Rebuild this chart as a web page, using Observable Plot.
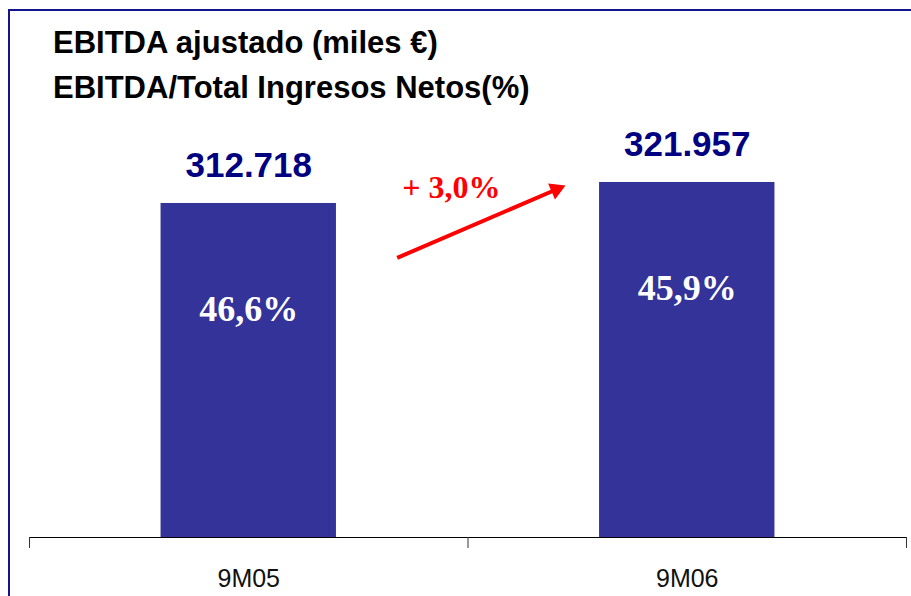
<!DOCTYPE html>
<html>
<head>
<meta charset="utf-8">
<script src="https://cdn.jsdelivr.net/npm/d3@7"></script>
<script src="https://cdn.jsdelivr.net/npm/@observablehq/plot@0.6"></script>
<style>
  body { margin: 0; background: #fff; }
  #wrap { position: relative; width: 911px; height: 596px; overflow: hidden; background: #fff; }
  #chart { position: absolute; left: 0; top: 0; }
  #frame { position: absolute; left: 8px; top: 9px; width: 940px; height: 620px;
           border-top: 2px solid #14148c; border-left: 2px solid #14148c; pointer-events: none; }
  #title { position: absolute; left: 53px; top: 20px; font-family: "Liberation Sans", Arial, sans-serif;
           font-weight: bold; font-size: 31px; line-height: 45px; color: #000; white-space: nowrap; }
</style>
</head>
<body>
<div id="wrap">
  <div id="chart"></div>
  <div id="frame"></div>
  <div id="title"><div>EBITDA ajustado (miles €)</div><div>EBITDA/Total Ingresos Netos(%)</div></div>
</div>
<script>
// ---- data ----
const categories = ["9M05", "9M06"];
const ebitda = [312718, 321957];          // miles €
const margin = [46.6, 45.9];              // EBITDA / Total Ingresos Netos (%)
const axisMin = 165800;                   // value axis starts here (as in the original)
const axisMax = 402000;
// growth arrow annotation (category-index x, value y)
const arrowStart = [0.8385, 288800];
const arrowHead = [1.2011, 318870];
const arrowAngle = 66.75;
const growthLabelPos = [0.962, 319750];

// ---- helpers ----
const es = d3.formatLocale({decimal: ",", thousands: ".", grouping: [3], currency: ["", " €"]});
const fmtInt = es.format(",d");
const fmtPct = es.format(".1f");
const growth = (ebitda[1] / ebitda[0] - 1) * 100;

const rows = categories.map((c, i) => ({cat: c, i, value: ebitda[i], pct: margin[i]}));
const barInset = 0.3;

const chart = Plot.plot({
  width: 911,
  height: 596,
  marginLeft: 29,
  marginRight: 5,
  marginTop: 0,
  marginBottom: 59,
  style: {background: "transparent", fontFamily: "'Liberation Sans', Arial, sans-serif", color: "#000", overflow: "visible"},
  x: {domain: [0, categories.length], axis: null},
  y: {domain: [axisMin, axisMax], axis: null},
  marks: [
    Plot.rectY(rows, {
      x1: d => d.i + barInset, x2: d => d.i + 1 - barInset,
      y1: axisMin, y2: "value", fill: "#333399"
    }),
    Plot.ruleY([axisMin], {stroke: "#000", strokeWidth: 1}),
    Plot.axisX(d3.range(0, categories.length + 1), {
      tickSize: 11, tickFormat: () => "", stroke: "#333"
    }),
    Plot.axisX(rows.map(d => d.i + 0.5), {
      tickSize: 0, tickPadding: 32, fontSize: 25, fill: "#111",
      tickFormat: d => categories[Math.floor(d)]
    }),
    Plot.text(rows, {
      x: d => d.i + 0.5, y: "value", text: d => fmtInt(d.value),
      dy: -38, fill: "#000080", fontSize: 35, fontWeight: "bold"
    }),
    Plot.text(rows, {
      x: d => d.i + 0.5, y: "value", text: d => fmtPct(d.pct) + "%",
      dy: 106, fill: "#fff", fontSize: 36, fontWeight: "bold",
      fontFamily: "'Liberation Serif', 'Times New Roman', serif"
    }),
    Plot.link([0], {
      x1: () => arrowStart[0], y1: () => arrowStart[1],
      x2: () => arrowHead[0], y2: () => arrowHead[1],
      stroke: "#ff0000", strokeWidth: 4
    }),
    Plot.dot([0], {
      x: () => arrowHead[0], y: () => arrowHead[1],
      symbol: "triangle", r: 6.5, fill: "#ff0000", stroke: "none", rotate: arrowAngle
    }),
    Plot.text([growth], {
      x: () => growthLabelPos[0], y: () => growthLabelPos[1],
      text: g => "+ " + fmtPct(g) + "%",
      fill: "#ff0000", fontSize: 32, fontWeight: "bold",
      fontFamily: "'Liberation Serif', 'Times New Roman', serif"
    })
  ]
});
document.getElementById("chart").appendChild(chart);
</script>
</body>
</html>
